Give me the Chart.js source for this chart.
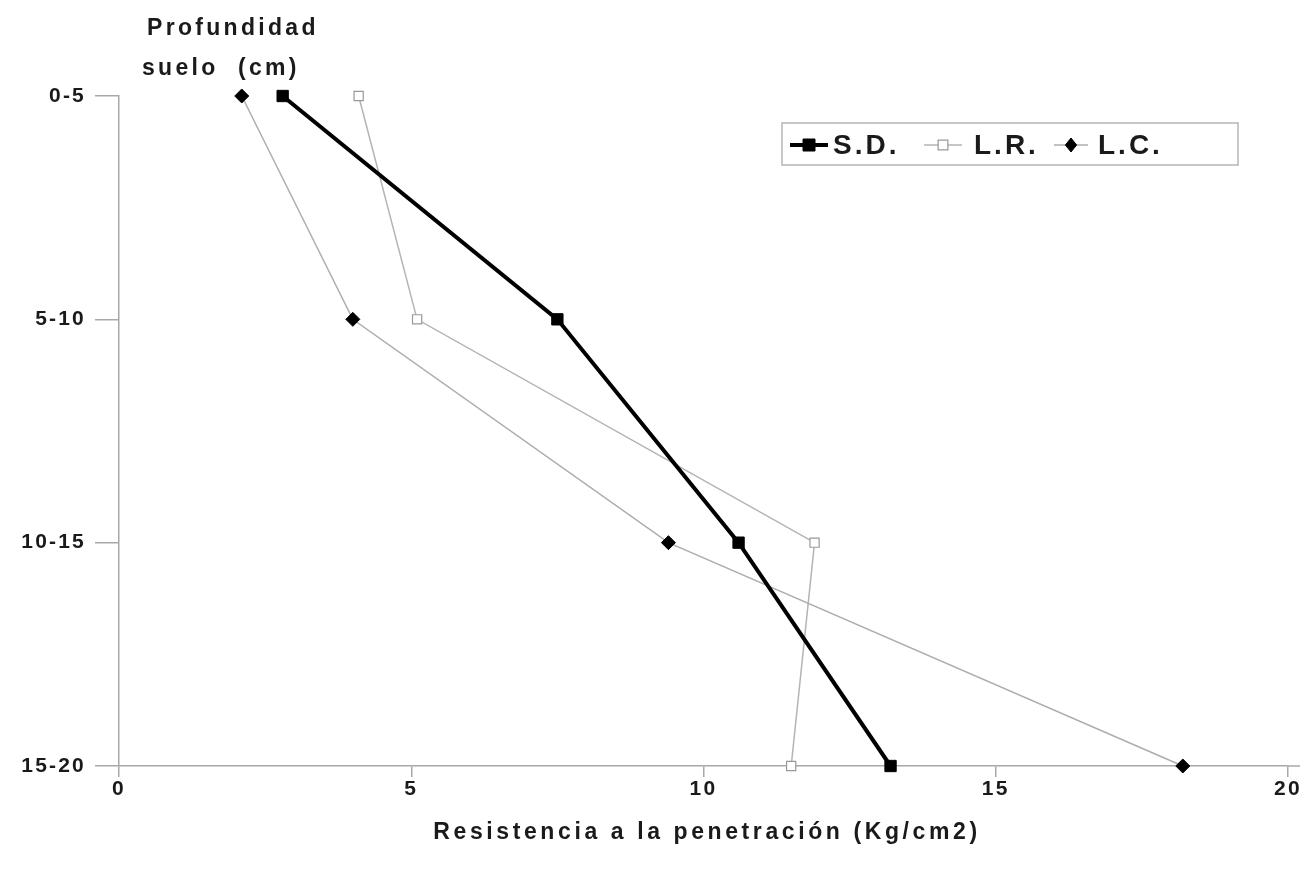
<!DOCTYPE html>
<html>
<head>
<meta charset="utf-8">
<title>Resistencia a la penetración</title>
<script src="https://cdn.jsdelivr.net/npm/chart.js"></script>
<style>
  html, body { margin: 0; padding: 0; background: #fff; }
  #chart { display: block; }
</style>
</head>
<body>
<canvas id="chart" width="1309" height="877"></canvas>
<script>
// depth classes (cm), top to bottom
const depths = ['0-5', '5-10', '10-15', '15-20'];

// penetration resistance (Kg/cm2) per tillage system
const sdValues = [2.8, 7.5, 10.6, 13.2];
const lrValues = [4.1, 5.1, 11.9, 11.5];
const lcValues = [2.1, 4.0, 9.4, 18.2];

const xTicks = [0, 5, 10, 15, 20];

const FONT = "'Liberation Sans', Arial, sans-serif";
const INK = '#1a1a1a';
const AXIS = '#a8a8a8';

// draws the depth label, the x title and the boxed legend
const extras = {
  id: 'extras',
  beforeDraw(chart) {
    chart.ctx.letterSpacing = '2.2px';
  },
  afterDraw(chart) {
    const ctx = chart.ctx;
    const area = chart.chartArea;
    ctx.save();

    // x axis runs a little past the last tick
    ctx.strokeStyle = AXIS;
    ctx.lineWidth = 1.5;
    ctx.beginPath();
    ctx.moveTo(area.right, area.bottom);
    ctx.lineTo(area.right + 12, area.bottom);
    ctx.stroke();

    ctx.fillStyle = INK;
    ctx.textBaseline = 'middle';

    // y axis label, top left
    ctx.letterSpacing = '3.3px';
    ctx.font = 'bold 23px ' + FONT;
    ctx.textAlign = 'left';
    ctx.fillText('Profundidad', 147, 29);
    ctx.fillText('suelo  (cm)', 142, 69);

    // x axis title
    ctx.letterSpacing = '3.6px';
    ctx.textAlign = 'center';
    ctx.fillText('Resistencia a la penetración (Kg/cm2)', 707, 833);

    // legend box
    ctx.strokeStyle = '#b5b5b5';
    ctx.lineWidth = 1.5;
    ctx.strokeRect(782, 123, 456, 42);

    const items = [
      { ds: chart.data.datasets[0], x0: 790, x1: 828, tx: 833 },
      { ds: chart.data.datasets[1], x0: 924, x1: 962, tx: 974 },
      { ds: chart.data.datasets[2], x0: 1054, x1: 1088, tx: 1098 }
    ];
    const ly = 145;
    items.forEach(it => {
      const ds = it.ds;
      ctx.strokeStyle = ds.borderColor;
      ctx.lineWidth = ds.borderWidth;
      ctx.beginPath();
      ctx.moveTo(it.x0, ly);
      ctx.lineTo(it.x1, ly);
      ctx.stroke();

      const cx = (it.x0 + it.x1) / 2;
      const r = ds.pointRadius;
      ctx.fillStyle = ds.pointBackgroundColor;
      ctx.strokeStyle = ds.pointBorderColor;
      ctx.lineWidth = ds.pointBorderWidth;
      ctx.beginPath();
      if (ds.pointStyle === 'rectRot') {
        ctx.moveTo(cx, ly - r);
        ctx.lineTo(cx + r * 0.8, ly);
        ctx.lineTo(cx, ly + r);
        ctx.lineTo(cx - r * 0.8, ly);
        ctx.closePath();
      } else {
        const h = r * 0.75;
        ctx.rect(cx - h, ly - h, h * 2, h * 2);
      }
      ctx.fill();
      ctx.stroke();

      ctx.fillStyle = INK;
      ctx.font = 'bold 28px ' + FONT;
      ctx.letterSpacing = '3px';
      ctx.textAlign = 'left';
      ctx.fillText(ds.label, it.tx, ly + 1);
    });
    ctx.restore();
    ctx.letterSpacing = '0px';
  }
};

new Chart(document.getElementById('chart'), {
  type: 'line',
  data: {
    labels: depths,
    datasets: [
      {
        label: 'S.D.',
        data: sdValues,
        borderColor: '#000',
        borderWidth: 4,
        pointStyle: 'rect',
        pointRadius: 8,
        pointBackgroundColor: '#000',
        pointBorderColor: '#000',
        pointBorderWidth: 1,
        clip: false,
        order: 0
      },
      {
        label: 'L.R.',
        data: lrValues,
        borderColor: '#b4b4b4',
        borderWidth: 1.5,
        pointStyle: 'rect',
        pointRadius: 6.5,
        pointBackgroundColor: '#fff',
        pointBorderColor: '#999',
        pointBorderWidth: 1.2,
        clip: false,
        order: 1
      },
      {
        label: 'L.C.',
        data: lcValues,
        borderColor: '#adadad',
        borderWidth: 1.5,
        pointStyle: 'rectRot',
        pointRadius: 7,
        pointBackgroundColor: '#000',
        pointBorderColor: '#000',
        pointBorderWidth: 1,
        clip: false,
        order: 2
      }
    ]
  },
  options: {
    indexAxis: 'y',
    responsive: false,
    animation: false,
    events: [],
    layout: { padding: { top: 96, right: 21, left: 0, bottom: 0 } },
    plugins: {
      legend: { display: false },
      tooltip: { enabled: false }
    },
    elements: { line: { tension: 0 } },
    scales: {
      x: {
        type: 'linear',
        position: 'bottom',
        min: 0,
        max: 20,
        afterBuildTicks: (scale) => { scale.ticks = xTicks.map(v => ({ value: v })); },
        afterFit: (scale) => { scale.height = 111; },
        grid: { drawOnChartArea: false, drawTicks: true, tickLength: 11, color: AXIS, lineWidth: 1.5 },
        border: { color: AXIS, width: 1.5 },
        ticks: { color: INK, font: { family: FONT, size: 21, weight: 'bold' }, padding: 0, maxRotation: 0 }
      },
      y: {
        type: 'category',
        offset: false,
        afterFit: (scale) => { scale.width = 119; },
        grid: { drawOnChartArea: false, drawTicks: true, tickLength: 24, color: AXIS, lineWidth: 1.5 },
        border: { color: AXIS, width: 1.5 },
        ticks: { color: INK, font: { family: FONT, size: 21, weight: 'bold' }, padding: 9 }
      }
    }
  },
  plugins: [extras]
});
</script>
</body>
</html>
